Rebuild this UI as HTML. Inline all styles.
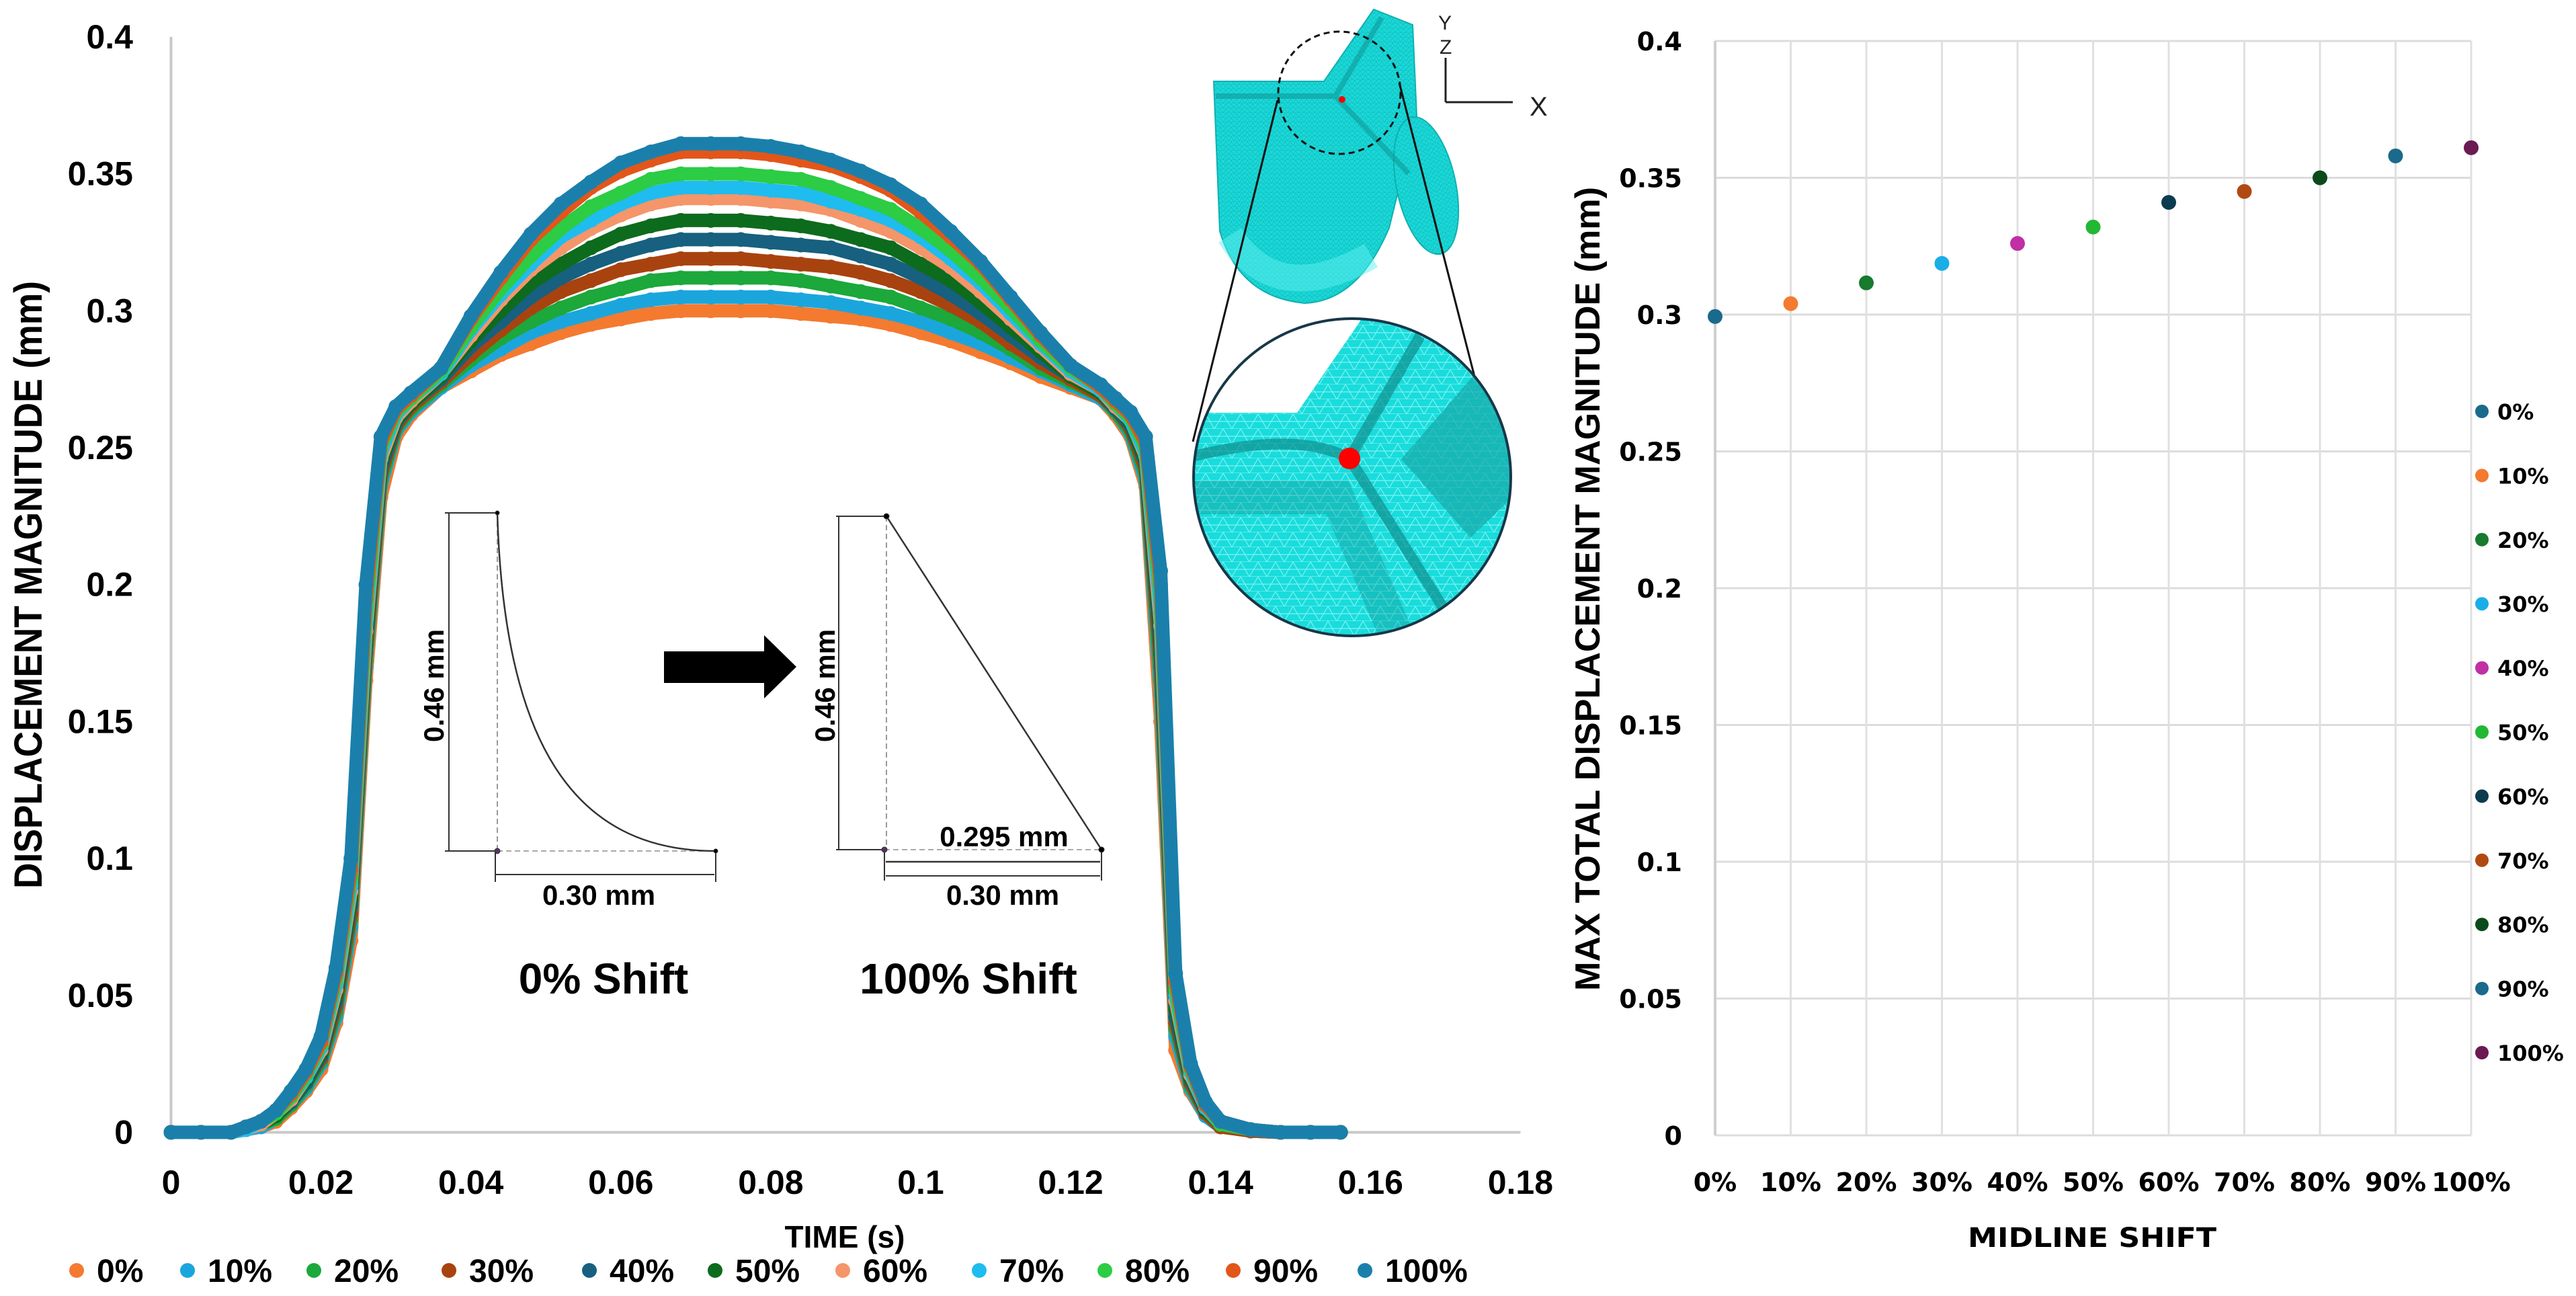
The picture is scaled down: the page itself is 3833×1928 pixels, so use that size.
<!DOCTYPE html>
<html><head><meta charset="utf-8"><title>Displacement charts</title>
<style>
html,body{margin:0;padding:0;background:#fff;}
svg{display:block;}
.ax{font-family:"Liberation Sans",Arial,sans-serif;font-weight:bold;fill:#000;}
.rx{font-family:"DejaVu Sans","Liberation Sans",sans-serif;font-weight:bold;fill:#000;}
</style></head>
<body>
<svg id="fig" width="3833" height="1928" viewBox="0 0 3833 1928" xmlns="http://www.w3.org/2000/svg">
<defs>
 <pattern id="mesh" width="26" height="22" patternUnits="userSpaceOnUse">
  <rect width="26" height="22" fill="#19dcdc"/>
  <path d="M0 0 L13 22 L26 0 M0 22 L26 22 M0 11 L26 11" stroke="#7ff2f2" stroke-width="1.2" fill="none"/>
 </pattern>
 <pattern id="meshs" width="8" height="7" patternUnits="userSpaceOnUse">
  <rect width="8" height="7" fill="#1ad9d9"/>
  <path d="M0 0 L4 7 L8 0 M0 7 L8 7" stroke="#11b8b8" stroke-width="0.7" fill="none"/>
 </pattern>
 <clipPath id="bigclip"><circle cx="2012" cy="710" r="236"/></clipPath>
</defs>
<g id="left-chart"></g>
<g id="insets">
 <g fill="none" stroke="#333">
  <line x1="668" y1="763" x2="668" y2="1266" stroke-width="2"/>
  <line x1="662" y1="763" x2="740" y2="763" stroke-width="2"/>
  <line x1="662" y1="1266" x2="740" y2="1266" stroke-width="2"/>
  <line x1="740" y1="763" x2="740" y2="1266" stroke="#999" stroke-width="2" stroke-dasharray="8 5"/>
  <line x1="740" y1="1266" x2="1065" y2="1266" stroke="#aaa" stroke-width="2" stroke-dasharray="8 5"/>
  <path d="M740,763 C750,1100 850,1266 1065,1266" stroke-width="2.5"/>
  <line x1="737" y1="1301" x2="1063" y2="1301" stroke-width="2"/>
  <line x1="737" y1="1266" x2="737" y2="1312" stroke-width="2"/>
  <line x1="1065" y1="1266" x2="1065" y2="1312" stroke-width="2"/>
  <circle cx="740" cy="763" r="3" fill="#000"/>
  <circle cx="740" cy="1266" r="4" fill="#536"/>
  <circle cx="1065" cy="1266" r="3" fill="#000"/>
 </g>
 <text class="ax" x="891" y="1346" font-size="42" text-anchor="middle">0.30 mm</text>
 <text class="ax" transform="translate(660,1020) rotate(-90)" font-size="42" text-anchor="middle">0.46 mm</text>
 <text class="ax" x="898" y="1478" font-size="64" text-anchor="middle">0% Shift</text>
 <polygon points="988,969 1137,969 1137,945 1185,992 1137,1039 1137,1016 988,1016" fill="#000"/>
 <g fill="none" stroke="#333">
  <line x1="1248" y1="768" x2="1248" y2="1264" stroke-width="2"/>
  <line x1="1244" y1="768" x2="1319" y2="768" stroke-width="2"/>
  <line x1="1244" y1="1264" x2="1316" y2="1264" stroke-width="2"/>
  <line x1="1319" y1="768" x2="1319" y2="1264" stroke="#999" stroke-width="2" stroke-dasharray="8 5"/>
  <line x1="1316" y1="1264" x2="1639" y2="1264" stroke="#aaa" stroke-width="2" stroke-dasharray="8 5"/>
  <line x1="1319" y1="768" x2="1639" y2="1264" stroke-width="2.5"/>
  <line x1="1318" y1="1282" x2="1637" y2="1282" stroke-width="2.5"/>
  <line x1="1318" y1="1303" x2="1637" y2="1303" stroke-width="2"/>
  <line x1="1316" y1="1264" x2="1316" y2="1310" stroke-width="2"/>
  <line x1="1639" y1="1264" x2="1639" y2="1310" stroke-width="2"/>
  <circle cx="1319" cy="768" r="4" fill="#000"/>
  <circle cx="1316" cy="1264" r="4" fill="#536"/>
  <circle cx="1639" cy="1264" r="4" fill="#000"/>
 </g>
 <text class="ax" x="1494" y="1259" font-size="42" text-anchor="middle">0.295 mm</text>
 <text class="ax" x="1492" y="1346" font-size="42" text-anchor="middle">0.30 mm</text>
 <text class="ax" transform="translate(1242,1020) rotate(-90)" font-size="42" text-anchor="middle">0.46 mm</text>
 <text class="ax" x="1441" y="1478" font-size="64" text-anchor="middle">100% Shift</text>
</g>
<g id="mesh-figure">
 <path d="M1806,121 L1970,121 L2044,14 L2102,37 L2108,172 L2067,339 Q2021,448 1941,451 Q1844,442 1815,344 Z" fill="url(#meshs)" stroke="#10b0b0" stroke-width="2"/>
 <ellipse cx="2122" cy="276" rx="44" ry="104" transform="rotate(-12 2122 276)" fill="url(#meshs)" stroke="#10b0b0" stroke-width="2"/>
 <path d="M1809,143 L1987,143 L2056,26 M1987,143 L2096,258" stroke="#0f9a9a" stroke-width="8" fill="none" opacity="0.6"/>
 <path d="M1830,350 Q1900,460 2040,380" stroke="#5ff0f0" stroke-width="40" fill="none" opacity="0.5"/>
 <circle cx="1993" cy="138" r="91" fill="none" stroke="#111" stroke-width="3" stroke-dasharray="9 6"/>
 <circle cx="1997" cy="148" r="5" fill="#f00"/>
 <line x1="1901" y1="149" x2="1775" y2="657" stroke="#111" stroke-width="3"/>
 <line x1="2082" y1="123" x2="2194" y2="560" stroke="#111" stroke-width="3"/>
 <g clip-path="url(#bigclip)">
  <rect x="1770" y="470" width="490" height="480" fill="url(#mesh)"/>
  <polygon points="1770,468 2030,468 2021,482 1930,614 1770,614" fill="#fff"/>
  <polygon points="2085,683 2194,557 2250,600 2250,740 2188,800" fill="#15a8a8" opacity="0.7"/>
  <path d="M2008,682 L2113,500 M2008,682 L2170,940 M2008,682 Q1930,640 1770,680" stroke="#0e8f8f" stroke-width="16" fill="none" opacity="0.7"/>
  <path d="M1770,740 L1990,740 L2080,950" stroke="#0e8f8f" stroke-width="50" fill="none" opacity="0.35"/>
 </g>
 <circle cx="2012" cy="710" r="236" fill="none" stroke="#173848" stroke-width="4"/>
 <circle cx="2008" cy="682" r="16" fill="#f00"/>
 <line x1="2151" y1="86" x2="2151" y2="152" stroke="#222" stroke-width="3"/>
 <line x1="2151" y1="152" x2="2251" y2="152" stroke="#222" stroke-width="3"/>
 <text x="2140" y="44" font-family="Liberation Sans,sans-serif" font-size="30" fill="#222">Y</text>
 <text x="2142" y="80" font-family="Liberation Sans,sans-serif" font-size="30" fill="#222">Z</text>
 <text x="2276" y="172" font-family="Liberation Sans,sans-serif" font-size="40" fill="#222">X</text>
</g>
<g id="right-chart"></g>
</svg>
<script>
// ---------- Left chart data ----------
const times = [0,0.004,0.008,0.010,0.012,0.014,0.016,0.018,0.020,0.022,0.024,0.026,0.028,0.030,0.032,
 0.036,0.040,0.044,0.048,0.052,0.056,0.060,0.064,0.068,0.072,0.076,0.080,0.084,0.088,0.092,0.096,0.100,0.104,0.108,0.112,0.116,0.120,
 0.124,0.126,0.128,0.130,0.132,0.134,0.136,0.138,0.140,0.144,0.148,0.152,0.156];
const seriesNames = ["0%","10%","20%","30%","40%","50%","60%","70%","80%","90%","100%"];
const seriesColors = ["#f47a30","#1aa6dd","#1ca83a","#a8430f","#17607f","#0d6b1d","#f5956a","#1fbcf0","#2ccc44","#e2561a","#1a80ab"];
const s0 = [0,0,0,0.001,0.002,0.004,0.009,0.015,0.023,0.040,0.070,0.165,0.232,0.254,0.262,
 .272,.278,.284,.288,.292,.295,.297,.299,.300,.300,.300,.300,.299,.298,.297,.295,.292,.289,.285,.281,.276,.272,
 .268,.262,.254,.236,.150,.030,.015,.006,.002,.0005,0,0,0];
const s10 = [0,0,0,0.001,0.002,0.005,0.010,0.016,0.025,0.042,0.075,0.170,0.236,0.256,0.263,
 .272,.280,.286,.292,.296,.299,.302,.304,.305,.305,.305,.305,.304,.303,.301,.299,.296,.292,.288,.283,.278,.273,
 .268,.263,.255,.238,.160,.035,.016,.006,.002,.0005,0,0,0];
const s20 = [0,0,0,0.001,0.003,0.005,0.010,0.017,0.026,0.044,0.078,0.172,0.238,0.257,0.264,
 .273,.282,.290,.296,.301,.305,.308,.311,.312,.312,.312,.312,.311,.309,.307,.305,.301,.297,.292,.286,.279,.274,
 .269,.263,.256,.240,.165,.038,.017,.007,.002,.0005,0,0,0];
const s30 = [0,0,0,0.001,0.003,0.006,0.011,0.018,0.027,0.046,0.080,0.175,0.240,0.258,0.265,
 .274,.284,.293,.301,.307,.311,.315,.317,.319,.319,.319,.318,.317,.316,.314,.311,.307,.302,.296,.288,.281,.275,
 .269,.264,.257,.242,.170,.040,.018,.007,.002,.0005,0,0,0];
const s40 = [0,0,0,0.001,0.003,0.006,0.011,0.018,0.028,0.048,0.083,0.178,0.242,0.259,0.266,
 .275,.287,.296,.305,.312,.317,.321,.324,.326,.326,.326,.325,.324,.323,.320,.317,.312,.306,.299,.291,.283,.276,
 .270,.264,.258,.244,.175,.042,.019,.008,.003,.001,0,0,0];
const s50 = [0,0,0,0.001,0.003,0.006,0.012,0.019,0.029,0.050,0.085,0.180,0.244,0.260,0.266,
 .276,.289,.300,.310,.317,.323,.328,.331,.333,.333,.333,.332,.331,.329,.326,.323,.317,.311,.303,.294,.285,.276,
 .270,.265,.259,.245,.180,.045,.020,.008,.003,.001,0,0,0];
const s60 = [0,0,0,0.001,0.003,0.007,0.012,0.020,0.030,0.052,0.088,0.183,0.246,0.261,0.267,
 .277,.291,.304,.315,.323,.330,.335,.339,.341,.341,.341,.340,.339,.337,.333,.329,.323,.316,.307,.297,.287,.277,
 .271,.265,.260,.247,.185,.048,.021,.009,.003,.001,0,0,0];
const s70 = [0,0,0,0.001,0.004,0.007,0.013,0.020,0.031,0.054,0.090,0.186,0.248,0.262,0.268,
 .277,.293,.306,.317,.327,.333,.339,.343,.345,.345,.345,.344,.343,.340,.337,.333,.327,.319,.310,.299,.288,.278,
 .271,.266,.260,.248,.190,.050,.022,.009,.003,.001,0,0,0];
const s80 = [0,0,0,0.002,0.004,0.007,0.013,0.021,0.032,0.056,0.093,0.190,0.250,0.263,0.268,
 .278,.294,.308,.320,.330,.338,.343,.348,.350,.350,.350,.349,.348,.345,.341,.337,.330,.322,.312,.301,.289,.279,
 .272,.266,.261,.250,.195,.052,.023,.010,.003,.001,0,0,0];
const s90 = [0,0,0,0.002,0.004,0.008,0.014,0.022,0.033,0.058,0.096,0.195,0.252,0.264,0.269,
 .279,.297,.312,.326,.336,.345,.351,.355,.358,.358,.358,.357,.355,.353,.349,.344,.336,.327,.317,.304,.291,.280,
 .272,.267,.262,.252,.200,.055,.024,.010,.004,.001,0,0,0];
const s100 = [0,0,0,0.002,0.004,0.008,0.015,0.023,0.035,0.060,0.100,0.200,0.254,0.265,0.270,
 .279,.298,.314,.328,.339,.347,.354,.358,.361,.361,.361,.360,.358,.355,.351,.346,.339,.329,.318,.305,.292,.280,
 .273,.268,.263,.254,.205,.058,.025,.011,.004,.001,0,0,0];
const allSeries = [s0,s10,s20,s30,s40,s50,s60,s70,s80,s90,s100];
const xTicks = [0,0.02,0.04,0.06,0.08,0.1,0.12,0.14,0.16,0.18];
const xTickLabels = ["0","0.02","0.04","0.06","0.08","0.1","0.12","0.14","0.16","0.18"];
const yTicks = [0,0.05,0.1,0.15,0.2,0.25,0.3,0.35,0.4];
const yTickLabels = ["0","0.05","0.1","0.15","0.2","0.25","0.3","0.35","0.4"];

// ---------- Right chart data ----------
const shiftCats = ["0%","10%","20%","30%","40%","50%","60%","70%","80%","90%","100%"];
const maxDisp = [0.2993,0.304,0.3116,0.3187,0.326,0.332,0.341,0.345,0.350,0.358,0.361];
const shiftColors = ["#1a6a8c","#f47a30","#177a2e","#1aaee6","#c02fa4","#22b833","#0c3b50","#b04a12","#0b4a1a","#1a6a8c","#6c1a52"];
const rYTicks = [0,0.05,0.1,0.15,0.2,0.25,0.3,0.35,0.4];
const rYTickLabels = ["0","0.05","0.1","0.15","0.2","0.25","0.3","0.35","0.4"];

const NS = "http://www.w3.org/2000/svg";
function mk(tag, attrs, parent){ const e=document.createElementNS(NS,tag); for(const k in attrs) e.setAttribute(k,attrs[k]); parent.appendChild(e); return e; }

// axis functions
const xL = t => 254.5 + t/0.02*223.1;
const yL = v => 1684.5 - v/0.05*203.7;
const xR = i => 2552 + i*112.5;
const yR = v => 1689 - v/0.05*203.5;

// ---- Left chart ----
const L = document.getElementById('left-chart');
let e;
e = mk('line',{x1:xL(0),y1:yL(0.4),x2:xL(0),y2:yL(0),stroke:'#c8c8c8','stroke-width':4},L);


e = mk('line',{x1:xL(0),y1:yL(0),x2:xL(0.18),y2:yL(0),stroke:'#c8c8c8','stroke-width':4},L);


yTicks.forEach((v,i)=>{
  const t = mk('text',{x:198,y:yL(v)+17,'font-size':50,'text-anchor':'end','class':'ax'},L);
  t.textContent = yTickLabels[i];
  
  
});
xTicks.forEach((v,i)=>{
  const t = mk('text',{x:xL(v),y:1776,'font-size':50,'text-anchor':'middle','class':'ax'},L);
  t.textContent = xTickLabels[i];
  
  
});
e = mk('text',{x:1257,y:1856,'font-size':46,'text-anchor':'middle','class':'ax'},L);
e.textContent = 'TIME (s)';


e = mk('text',{transform:'translate(62,870) rotate(-90)','font-size':58,'text-anchor':'middle','class':'ax',textLength:904,lengthAdjust:'spacingAndGlyphs'},L);
e.textContent = 'DISPLACEMENT MAGNITUDE (mm)';



allSeries.forEach((vals,si)=>{
  const g = mk('g',{},L);
  
  
  const pts = vals.map((v,i)=>xL(times[i]).toFixed(1)+','+yL(v).toFixed(1)).join(' ');
  const pl = mk('polyline',{points:pts,fill:'none',stroke:seriesColors[si],'stroke-width':20,'stroke-linejoin':'round','stroke-linecap':'round'},g);
  
  
  vals.forEach((v,i)=>{
    const c = mk('circle',{cx:xL(times[i]),cy:yL(v),r:11,fill:seriesColors[si]},g);
    
    
  });
});
const legX = [114,279,467,668,877,1064,1254,1457,1644,1835,2031];
seriesNames.forEach((n,i)=>{
  const g = mk('g',{},L);
  
  
  mk('circle',{cx:legX[i],cy:1890,r:11,fill:seriesColors[i]},g);
  const t = mk('text',{x:legX[i]+30,y:1907,'font-size':48,'class':'ax'},g);
  t.textContent = n;
});

// ---- Right chart ----
const R = document.getElementById('right-chart');
rYTicks.forEach((v,i)=>{
  const ln = mk('line',{x1:xR(0),y1:yR(v),x2:xR(10),y2:yR(v),stroke:'#dcdcdc','stroke-width':3},R);
  
  
  const t = mk('text',{x:2503,y:yR(v)+14,'font-size':38,'text-anchor':'end','class':'rx'},R);
  t.textContent = rYTickLabels[i];
  
  
});
shiftCats.forEach((c,i)=>{
  const ln = mk('line',{x1:xR(i),y1:yR(0.4),x2:xR(i),y2:yR(0),stroke:(i===0?'#cfcfcf':'#e0e0e0'),'stroke-width':(i===0?4:3)},R);
  
  
  const t = mk('text',{x:xR(i),y:1772,'font-size':38,'text-anchor':'middle','class':'rx'},R);
  t.textContent = c;
  
  
});
maxDisp.forEach((v,i)=>{
  const c = mk('circle',{cx:xR(i),cy:yR(v),r:11,fill:shiftColors[i]},R);
  
  
});
e = mk('text',{x:3113,y:1855,'font-size':40,'text-anchor':'middle','class':'rx',textLength:370,lengthAdjust:'spacingAndGlyphs'},R);
e.textContent = 'MIDLINE SHIFT';


e = mk('text',{transform:'translate(2380,876) rotate(-90)','font-size':52,'text-anchor':'middle','class':'ax',textLength:1196,lengthAdjust:'spacingAndGlyphs'},R);
e.textContent = 'MAX TOTAL DISPLACEMENT MAGNITUDE (mm)';


shiftCats.forEach((c,i)=>{
  const g = mk('g',{},R);
  
  
  const y = 612 + i*95.4;
  mk('circle',{cx:3693,cy:y,r:10,fill:shiftColors[i]},g);
  const t = mk('text',{x:3716,y:y+12,'font-size':32,'class':'rx'},g);
  t.textContent = c;
});
</script>
</body></html>
